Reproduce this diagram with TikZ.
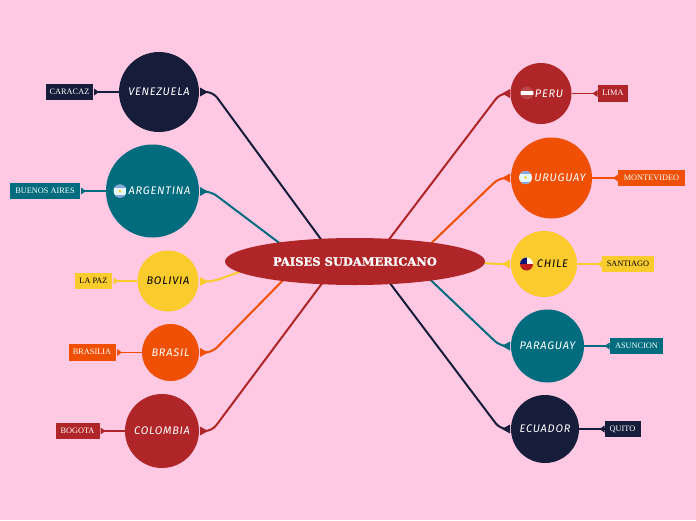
\documentclass[tikz,border=0pt]{standalone}
\usepackage{fontspec}
\setmainfont{Liberation Serif}
\newfontfamily\handf[LetterSpace=7]{Fira Sans}
\newfontfamily\titlef[BoldFeatures={FakeBold=1.2}]{DejaVu Serif}
\usetikzlibrary{shapes.geometric}
\definecolor{bgp}{HTML}{FFC9E3}
\definecolor{navy}{HTML}{161D3B}
\definecolor{teal}{HTML}{006C7D}
\definecolor{gold}{HTML}{F9CB2C}
\definecolor{orng}{HTML}{F05006}
\definecolor{crim}{HTML}{AF2528}
\tikzset{
 x=1pt,y=-1pt,
 country/.style={circle,inner sep=0pt,font=\handf\itshape\fontsize{11}{12}\selectfont},
 capital/.style={inner sep=0pt,font=\fontsize{8.3}{9}\selectfont,minimum height=16.5pt,anchor=center,text height=5.5pt,text depth=1.2pt},
 branch/.style={line width=2pt,rounded corners=7pt},
 twig/.style={line width=1.7pt},
}
\newcommand{\tipR}[3]{\fill[#1] (#2,#3-4.5) -- (#2+8,#3) -- (#2,#3+4.5) -- cycle;}
\newcommand{\tipL}[3]{\fill[#1] (#2,#3-4.5) -- (#2-8,#3) -- (#2,#3+4.5) -- cycle;}
\newcommand{\smallR}[3]{\fill[#1] (#2,#3-3.5) -- (#2+5,#3) -- (#2,#3+3.5) -- cycle;}
\newcommand{\smallL}[3]{\fill[#1] (#2,#3-3.5) -- (#2-5,#3) -- (#2,#3+3.5) -- cycle;}
\begin{document}
\begin{tikzpicture}
\fill[bgp] (0,0) rectangle (696,520);
\useasboundingbox (0,0) rectangle (696,520);
\coordinate (hubc) at (355,261.5);
% inner ends of branches, hidden below the hub
\coordinate (hve) at (332.5,255);
\coordinate (har) at (290,251);
\coordinate (hbo) at (250,268);
\coordinate (hbr) at (295,268);
\coordinate (hco) at (332,270);
\coordinate (hpe) at (381,250);
\coordinate (hur) at (419,255);
\coordinate (hch) at (470,262);
\coordinate (hpa) at (418,268);
\coordinate (hec) at (380,270);
% branch ends at the tips
\coordinate (kve) at (204,92);
\coordinate (kar) at (204,191.5);
\coordinate (kbo) at (204,281.5);
\coordinate (kbr) at (204,352.5);
\coordinate (kco) at (204,431);
\coordinate (kpe) at (506,93.5);
\coordinate (kur) at (506,178);
\coordinate (kch) at (506,264);
\coordinate (kpa) at (506,346);
\coordinate (kec) at (506,429);
% branches
\draw[branch,navy] (hve) -- (213,92) -- (kve);
\draw[branch,teal] (har) -- (211,191.5) -- (kar);
\draw[branch,gold] (hbo) -- (213,281.5) -- (kbo);
\draw[branch,orng] (hbr) -- (212,352.5) -- (kbr);
\draw[branch,crim] (hco) -- (212,431) -- (kco);
\draw[branch,crim] (hpe) -- (500,93.5) -- (kpe);
\draw[branch,orng] (hur) -- (499,178) -- (kur);
\draw[branch,gold] (hch) -- (497,264) -- (kch);
\draw[branch,teal] (hpa) -- (500,346) -- (kpa);
\draw[branch,navy] (hec) -- (500,429) -- (kec);
% arrow tips at countries
\tipR{navy}{200}{92}
\tipR{teal}{200}{191.5}
\tipR{gold}{200}{281.5}
\tipR{orng}{200}{352.5}
\tipR{crim}{200}{431}
\tipL{crim}{510}{93.5}
\tipL{orng}{510}{178}
\tipL{gold}{510}{264}
\tipL{teal}{510}{346}
\tipL{navy}{510}{429}
% hub node
\node[ellipse,fill=crim,minimum width=260pt,minimum height=47pt,inner sep=0pt] (hub) at (hubc)
 {\textcolor{white}{\titlef\bfseries\fontsize{11.5}{12}\selectfont PAISES SUDAMERICANO}};
% countries
\node[country,fill=navy,text=white,minimum size=80pt] (ve) at (159,92) {VENEZUELA};
\node[country,fill=teal,text=white,minimum size=93pt] (ar) at (152.5,191) {\hspace{14pt}ARGENTINA};
\node[country,fill=gold,text=black,minimum size=61pt] (bo) at (168,281) {BOLIVIA};
\node[country,fill=orng,text=white,minimum size=57pt] (br) at (170.5,352.5) {BRASIL};
\node[country,fill=crim,text=white,minimum size=74pt] (co) at (162,431) {COLOMBIA};
\node[country,fill=crim,text=white,minimum size=61pt] (pe) at (541,93.5) {\hspace{16pt}PERU};
\node[country,fill=orng,text=white,minimum size=81pt] (ur) at (551.5,178) {\hspace{17pt}URUGUAY};
\node[country,fill=gold,text=black,minimum size=66pt] (ch) at (544,264) {\hspace{17pt}CHILE};
\node[country,fill=teal,text=white,minimum size=73pt] (pa) at (547.5,346) {PARAGUAY};
\node[country,fill=navy,text=white,minimum size=68pt] (ec) at (545,429) {ECUADOR};
% capitals
\node[capital,fill=navy,text=white,minimum width=47pt] (cve) at (69.5,92) {CARACAZ};
\node[capital,fill=teal,text=white,minimum width=70pt] (car) at (45,191) {BUENOS AIRES};
\node[capital,fill=gold,text=black,minimum width=37.5pt] (cbo) at (93.5,281) {LA PAZ};
\node[capital,fill=orng,text=white,minimum width=47pt] (cbr) at (92,352.5) {BRASILIA};
\node[capital,fill=crim,text=white,minimum width=44pt] (cco) at (77.5,431) {BOGOTA};
\node[capital,fill=crim,text=white,minimum width=30.5pt] (cpe) at (613,93.5) {LIMA};
\node[capital,fill=orng,text=white,minimum width=67pt] (cur) at (651.5,178) {MONTEVIDEO};
\node[capital,fill=gold,text=black,minimum width=51.5pt] (cch) at (628,264) {SANTIAGO};
\node[capital,fill=teal,text=white,minimum width=53.5pt] (cpa) at (636.5,346) {ASUNCION};
\node[capital,fill=navy,text=white,minimum width=36pt] (cec) at (622.5,429) {QUITO};
% twigs
\draw[twig,navy] (ve.west) -- (94,92);
\draw[twig,teal] (ar.west) -- (81,191);
\draw[twig,gold] (bo.west) -- (113.5,281);
\draw[twig,orng] (br.west) -- (117,352.5);
\draw[twig,crim] (co.west) -- (100.5,431);
\draw[twig,crim] (pe.east) -- (597.5,93.5);
\draw[twig,orng] (ur.east) -- (618,178);
\draw[twig,gold] (ch.east) -- (602,264);
\draw[twig,teal] (pa.east) -- (609.5,346);
\draw[twig,navy] (ec.east) -- (604.5,429);
\smallR{navy}{94}{92}
\smallR{teal}{81}{191}
\smallR{gold}{113.5}{281}
\smallR{orng}{117}{352.5}
\smallR{crim}{100.5}{431}
\smallL{crim}{597.5}{93.5}
\smallL{orng}{618}{178}
\smallL{gold}{602}{264}
\smallL{teal}{609.5}{346}
\smallL{navy}{604.5}{429}
% flags
\begin{scope}
\clip (527,93) circle (6.5);
\fill[crim!85!white] (520,86) rectangle (534,100);
\fill[white] (520,91) rectangle (534,95);
\end{scope}
\begin{scope}
\clip (525.5,177.5) circle (6.5);
\fill[white!90!cyan] (518,170) rectangle (533,185);
\fill[cyan!50!blue!50!white] (518,170) rectangle (533,173.5);
\fill[cyan!50!blue!50!white] (518,181.5) rectangle (533,185);
\fill[gold] (525.5,177.5) circle (1.5);
\end{scope}
\begin{scope}
\clip (526.5,264) circle (6.5);
\fill[white] (519,257) rectangle (534,264);
\fill[crim!80!red] (519,264) rectangle (534,271);
\fill[navy!70!blue] (519,257) rectangle (526.5,264);
\end{scope}
\begin{scope}
\clip (120,191) circle (6.5);
\fill[white!90!cyan] (113,184) rectangle (127,198);
\fill[cyan!50!blue!50!white] (113,184) rectangle (127,187.5);
\fill[cyan!50!blue!50!white] (113,194.5) rectangle (127,198);
\fill[gold] (120,191) circle (1.5);
\end{scope}
\end{tikzpicture}
\end{document}
